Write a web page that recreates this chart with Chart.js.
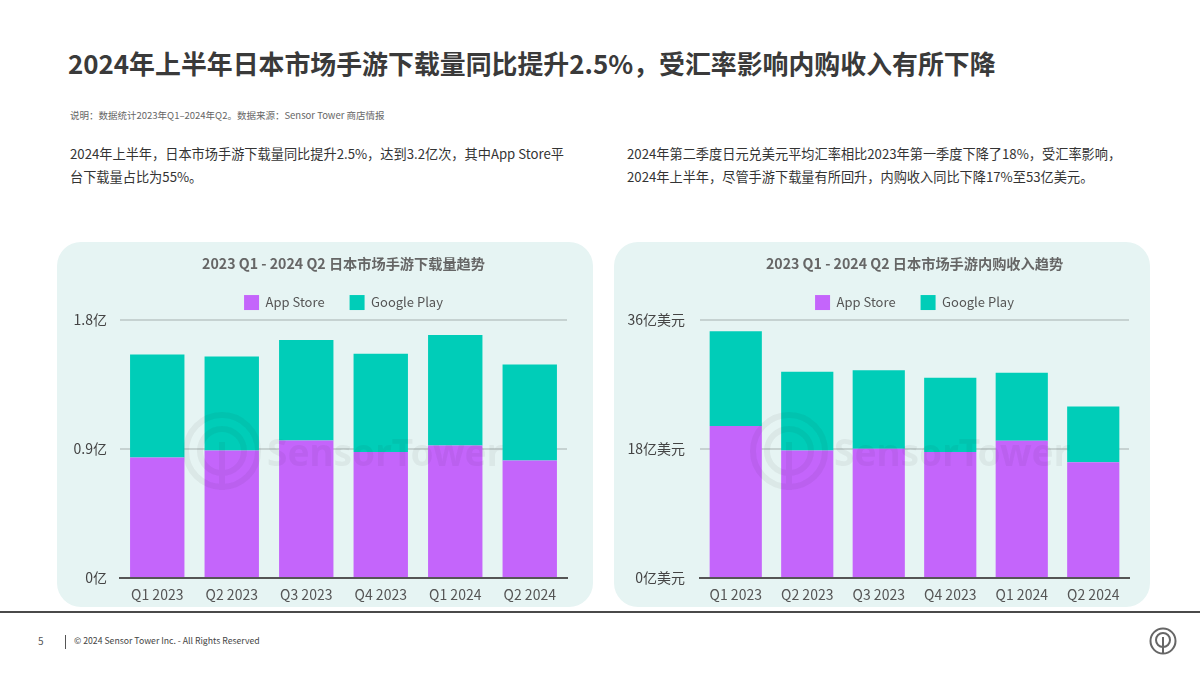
<!DOCTYPE html>
<html lang="zh-CN">
<head>
<meta charset="utf-8">
<script src="https://cdn.jsdelivr.net/npm/chart.js@4"></script>
<style>
  html, body { margin: 0; padding: 0; background: #fff; }
  body { width: 1200px; height: 675px; position: relative; overflow: hidden;
         font-family: "Noto Sans CJK SC", "Noto Sans", sans-serif; color: #333; }
  .abs { position: absolute; white-space: nowrap; }
  .card { position: absolute; top: 242px; height: 365px; background: #e6f4f3; border-radius: 24px; }
  .card canvas { position: absolute; left: 0; top: 0; }
  .mark { position: absolute; top: 170px; opacity: .05; pointer-events: none; display: flex; align-items: center; gap: 6px;
          font: 700 37px "Noto Sans", sans-serif; color: #222; z-index: 2; }
</style>
</head>
<body>
<div class="abs" style="left:68px;top:44px;font-size:25.9px;font-weight:700;line-height:38px;color:#3a3a3a">2024年上半年日本市场手游下载量同比提升2.5%，受汇率影响内购收入有所下降</div>
<div class="abs" style="left:70px;top:108px;font-size:9.5px;line-height:14px;color:#666">说明：数据统计2023年Q1–2024年Q2。数据来源：Sensor Tower 商店情报</div>
<div class="abs" style="left:70px;top:142px;font-size:13.2px;line-height:23px;color:#333">2024年上半年，日本市场手游下载量同比提升2.5%，达到3.2亿次，其中App Store平<br>台下载量占比为55%。</div>
<div class="abs" style="left:627px;top:142px;font-size:13.2px;line-height:23px;color:#333">2024年第二季度日元兑美元平均汇率相比2023年第一季度下降了18%，受汇率影响，<br>2024年上半年，尽管手游下载量有所回升，内购收入同比下降17%至53亿美元。</div>

<div class="card" style="left:57px;width:536px">
  <canvas id="downloadsChart" width="536" height="365"></canvas>
  <div class="mark" style="left:126px"><svg width="78" height="78" viewBox="0 0 78 78" fill="none" stroke="#222" stroke-width="6"><circle cx="39" cy="39" r="36"/><circle cx="39" cy="39" r="22"/><path d="M39 30v48"/></svg>SensorTower</div>
</div>
<div class="card" style="left:614px;width:536px">
  <canvas id="revenueChart" width="536" height="365"></canvas>
  <div class="mark" style="left:136px"><svg width="78" height="78" viewBox="0 0 78 78" fill="none" stroke="#222" stroke-width="6"><circle cx="39" cy="39" r="36"/><circle cx="39" cy="39" r="22"/><path d="M39 30v48"/></svg>SensorTower</div>
</div>

<div class="abs" style="left:0;top:611px;width:1200px;height:2px;background:#4a4a4a"></div>
<div class="abs" style="left:38px;top:633px;font-size:10px;line-height:16px;color:#555">5</div>
<div class="abs" style="left:65px;top:635px;width:1px;height:14px;background:#555"></div>
<div class="abs" style="left:74px;top:634px;font-size:8.7px;line-height:14px;color:#444">© 2024 Sensor Tower Inc. - All Rights Reserved</div>
<svg class="abs" style="left:1149px;top:627px" width="28" height="28" viewBox="0 0 28 28" fill="none" stroke="#666" stroke-width="2"><circle cx="14" cy="14" r="12.5"/><circle cx="14" cy="13" r="7"/><path d="M14 10v17"/></svg>

<script>
const quarters = ['Q1 2023', 'Q2 2023', 'Q3 2023', 'Q4 2023', 'Q1 2024', 'Q2 2024'];

// 下载量（亿次）
const downloadsAppStore = [0.84, 0.89, 0.96, 0.88, 0.925, 0.82];
const downloadsGooglePlay = [0.72, 0.655, 0.70, 0.685, 0.77, 0.67];
const downloadsTicks = [0, 0.9, 1.8];
const downloadsTickLabels = ['0亿', '0.9亿', '1.8亿'];

// 内购收入（亿美元）
const revenueAppStore = [21.2, 17.8, 18.05, 17.6, 19.15, 16.15];
const revenueGooglePlay = [13.25, 11.0, 10.95, 10.35, 9.5, 7.8];
const revenueTicks = [0, 18, 36];
const revenueTickLabels = ['0亿美元', '18亿美元', '36亿美元'];

const purple = '#c465fb';
const teal = '#00cdb8';
const fontName = '"Noto Sans CJK SC", "Noto Sans", sans-serif';

function drawChart(id, title, appStore, googlePlay, ticks, tickLabels, yWidth, rightPad, yPad) {
  return new Chart(document.getElementById(id).getContext('2d'), {
    type: 'bar',
    data: {
      labels: quarters,
      datasets: [
        { label: 'App Store', data: appStore, backgroundColor: purple, barPercentage: 0.73, categoryPercentage: 1 },
        { label: 'Google Play', data: googlePlay, backgroundColor: teal, barPercentage: 0.73, categoryPercentage: 1 }
      ]
    },
    options: {
      responsive: false,
      animation: false,
      layout: { padding: { left: 0, right: rightPad, top: 13, bottom: 0 } },
      plugins: {
        // fullSize false keeps title and legend centred over the plot, not the card
        title: {
          display: true,
          fullSize: false,
          text: title,
          color: '#666',
          font: { family: fontName, size: 14.2, weight: '700' },
          padding: { top: 0, bottom: -2 }
        },
        legend: {
          display: true,
          fullSize: false,
          position: 'top',
          labels: {
            boxWidth: 15, boxHeight: 15, padding: 25, color: '#555',
            font: { family: fontName, size: 13 }
          }
        },
        tooltip: { enabled: false }
      },
      scales: {
        x: {
          stacked: true,
          grid: { display: false },
          border: { display: true, color: '#555', width: 2 },
          afterFit: (axis) => { axis.height = 29; },
          ticks: { color: '#555', font: { family: fontName, size: 14 }, padding: 0, maxRotation: 0 }
        },
        y: {
          stacked: true,
          min: ticks[0],
          max: ticks[ticks.length - 1],
          afterBuildTicks: (axis) => { axis.ticks = ticks.map((v) => ({ value: v })); },
          afterFit: (axis) => { axis.width = yWidth; },
          grid: { color: '#c6d2d1', lineWidth: 2, drawTicks: false },
          border: { display: false },
          ticks: {
            color: '#444',
            padding: yPad,
            font: { family: fontName, size: 14 },
            callback: (v) => tickLabels[ticks.indexOf(v)]
          }
        }
      }
    }
  });
}

const downloadsChart = drawChart('downloadsChart', '2023 Q1 - 2024 Q2 日本市场手游下载量趋势',
  downloadsAppStore, downloadsGooglePlay, downloadsTicks, downloadsTickLabels, 63, 26, 13);
const revenueChart = drawChart('revenueChart', '2023 Q1 - 2024 Q2 日本市场手游内购收入趋势',
  revenueAppStore, revenueGooglePlay, revenueTicks, revenueTickLabels, 86, 21, 15);
</script>
</body>
</html>
